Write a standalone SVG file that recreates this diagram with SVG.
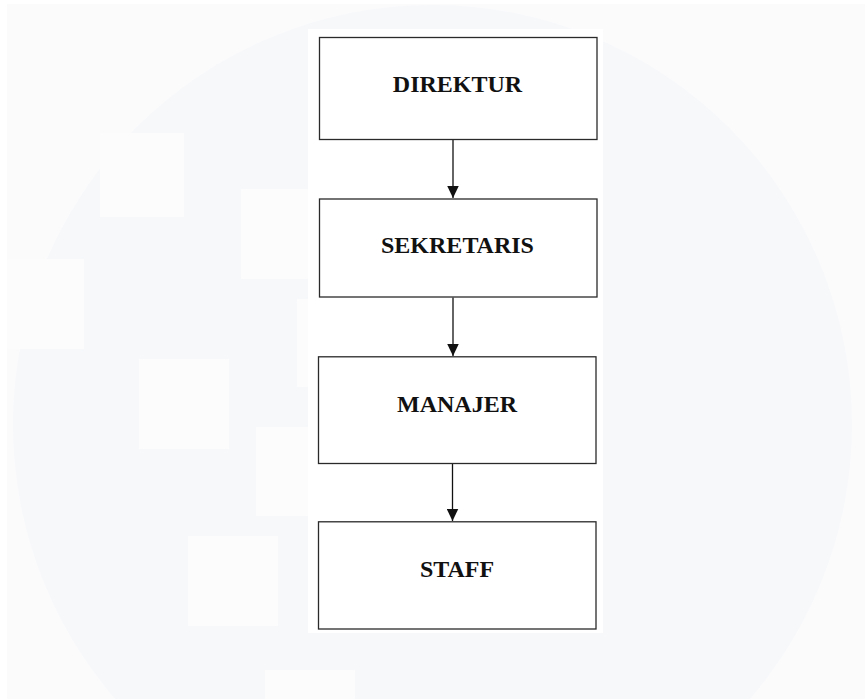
<svg xmlns="http://www.w3.org/2000/svg" width="865" height="699" viewBox="0 0 865 699">
<style>
.box{fill:#ffffff;stroke:#2a2a2a;stroke-width:1.3}
.lbl{font-family:"Liberation Serif","Times New Roman",serif;font-weight:bold;font-size:24px;fill:#111;text-anchor:middle}
.con{stroke:#111;stroke-width:1.3;fill:none}
.wm{fill:#fcfcfc}
</style>
<defs>
<marker id="ah" markerWidth="13" markerHeight="12" refX="12.5" refY="6" orient="auto" markerUnits="userSpaceOnUse">
<path d="M0,0 L12.5,6 L0,12 Z" fill="#111"/>
</marker>
</defs>
<g id="background">
<rect x="0" y="0" width="865" height="699" fill="#ffffff"/>
<rect x="7" y="4" width="858" height="695" fill="#fbfbfc"/>
<circle cx="432.5" cy="424.5" r="419.5" fill="#f7f8fa"/>
<rect class="wm" x="100" y="133" width="84" height="84"/>
<rect class="wm" x="241" y="189" width="67" height="90"/>
<rect class="wm" x="7" y="259" width="77" height="90"/>
<rect class="wm" x="139" y="359" width="90" height="90"/>
<rect class="wm" x="297" y="299" width="11" height="88"/>
<rect class="wm" x="256" y="427" width="52" height="89"/>
<rect class="wm" x="188" y="536" width="90" height="90"/>
<rect class="wm" x="265" y="670" width="90" height="29"/>
<rect x="308" y="29" width="295" height="604" fill="#ffffff"/>
</g>
<g id="connectors">
<line class="con" x1="453" y1="140" x2="453" y2="198" marker-end="url(#ah)"/>
<line class="con" x1="453" y1="297.5" x2="453" y2="356" marker-end="url(#ah)"/>
<line class="con" x1="452.5" y1="464" x2="452.5" y2="521" marker-end="url(#ah)"/>
</g>
<g id="direktur">
<rect class="box" x="319.5" y="37.5" width="277.5" height="102"/>
<text class="lbl" x="457.5" y="91.7">DIREKTUR</text>
</g>
<g id="sekretaris">
<rect class="box" x="319.5" y="199" width="277.5" height="98"/>
<text class="lbl" x="457.5" y="253">SEKRETARIS</text>
</g>
<g id="manajer">
<rect class="box" x="318.5" y="356.8" width="277.5" height="106.7"/>
<text class="lbl" x="457" y="411.7">MANAJER</text>
</g>
<g id="staff">
<rect class="box" x="318.5" y="521.8" width="277.5" height="107.2"/>
<text class="lbl" x="457" y="576.7">STAFF</text>
</g>
</svg>
